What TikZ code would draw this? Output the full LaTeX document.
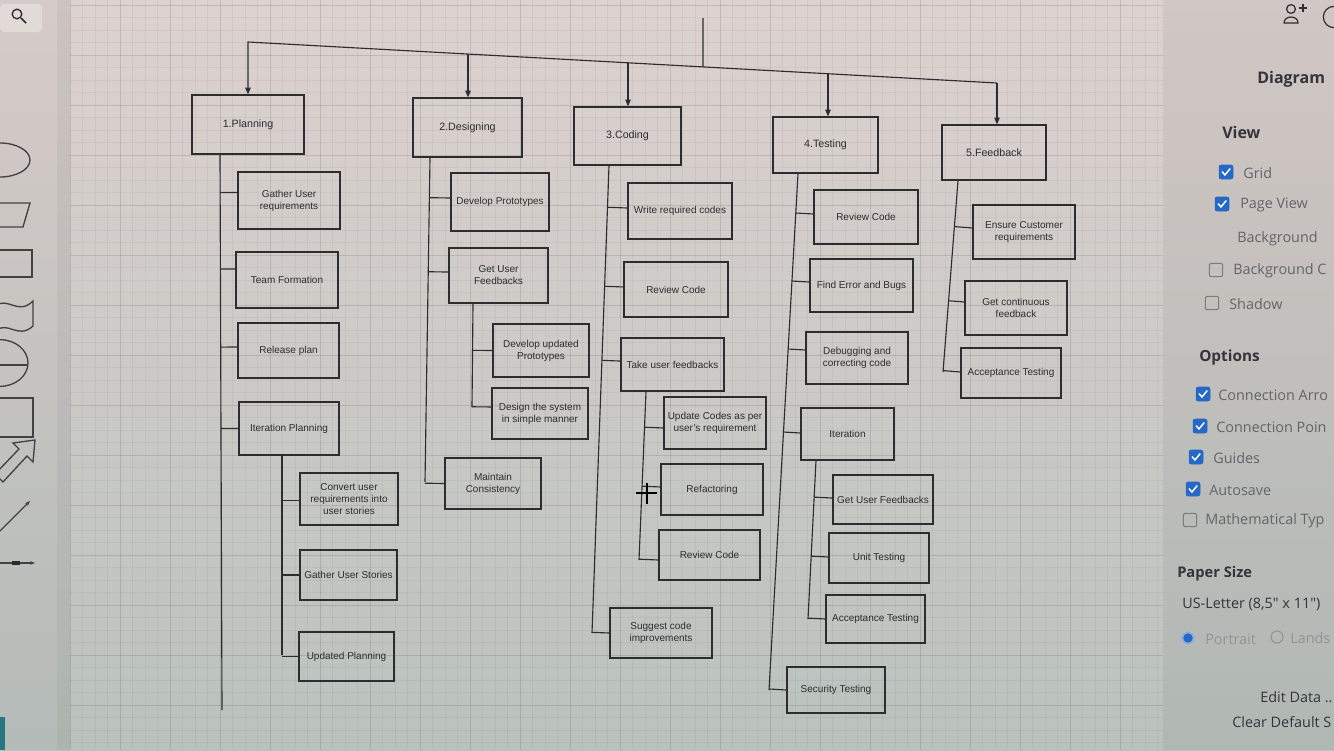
\documentclass[tikz,border=0pt]{standalone}
\usepackage{fontspec}
\setmainfont{Liberation Sans}
\newfontfamily\uifont{Open Sans}
\usetikzlibrary{arrows.meta,calc}

\definecolor{bgtop}{RGB}{221,210,207}
\definecolor{bgbot}{RGB}{186,194,190}
\definecolor{ink}{RGB}{45,45,48}
\definecolor{uitext}{RGB}{100,100,106}
\definecolor{uihead}{RGB}{52,52,58}
\definecolor{tick}{RGB}{38,104,200}
\definecolor{teal}{RGB}{40,118,130}

% horizontal stub from a (slanted) trunk #1--#2 to child #3, #4 = vertical offset
\newcommand\tstub[4]{%
  \coordinate (stubend) at ([yshift=#4]#3.west);
  \draw[conn] ($(#1)!(stubend)!(#2)$) -- (stubend);}

\begin{document}
\begin{tikzpicture}[x=0.75pt,y=-0.75pt,
  box/.style={draw=ink, line width=0.9pt, text=ink, align=center,
    font=\fontsize{7.5}{9}\selectfont, inner sep=1pt},
  phase/.style={box, font=\fontsize{8}{9.5}\selectfont},
  sz/.style 2 args={minimum width=#1*0.75pt, minimum height=#2*0.75pt},
  conn/.style={draw=ink, line width=0.85pt},
  arr/.style={conn, -{Triangle[length=5pt,width=4pt]}},
  gridminor/.style={draw=black, opacity=0.04, line width=0.4pt},
  gridmajor/.style={draw=black, opacity=0.075, line width=0.5pt},
  uilbl/.style={anchor=west, text=uitext, font=\uifont\fontsize{10.8}{13}\selectfont, inner sep=0pt},
  uihd/.style={anchor=west, text=uihead, font=\uifont\bfseries\fontsize{11.5}{13}\selectfont, inner sep=0pt},
  cbonst/.style={draw=tick, fill=tick, rounded corners=1.5pt, minimum size=10.5pt, inner sep=0pt},
  cboffst/.style={draw=uitext!85, line width=0.8pt, rounded corners=1.5pt, minimum size=10pt, inner sep=0pt},
  palette/.style={draw=ink!90, line width=1pt}]

\useasboundingbox (0,0) rectangle (1334,750);
\clip (0,0) rectangle (1334,750);

% ---------- background, canvas grid, side strips ----------
\shade[top color=bgtop, bottom color=bgbot] (0,0) rectangle (1334,750);
\begin{scope}
  \clip (70,0) rectangle (1163,750);
  \foreach \gx in {70,82.5,...,1163} \draw[gridminor] (\gx,0) -- (\gx,750);
  \foreach \gy in {5,17.5,...,750} \draw[gridminor] (70,\gy) -- (1163,\gy);
  \foreach \gx in {70,120,...,1163} \draw[gridmajor] (\gx,0) -- (\gx,750);
  \foreach \gy in {5,55,...,750} \draw[gridmajor] (70,\gy) -- (1163,\gy);
\end{scope}
\fill[black, opacity=0.03] (0,0) rectangle (57,750);
\fill[black, opacity=0.07] (57,0) rectangle (70,750);
\fill[black, opacity=0.05] (1163,0) rectangle (1334,750);
\fill[teal] (0,717) rectangle (5,750);

% ---------- phases ----------
\node[phase, sz={112}{59}] (pl) at (248,124.5) {1.Planning};
\node[phase, sz={109}{59}] (de) at (467.5,127.5) {2.Designing};
\node[phase, sz={107}{58}] (co) at (627.5,136) {3.Coding};
\node[phase, sz={105}{56}] (te) at (825.5,145) {4.Testing};
\node[phase, sz={104}{55}] (fb) at (994,152.5) {5.Feedback};

% ---------- planning ----------
\node[box, sz={102}{57}] (p1) at (289,200.5) {Gather User\\requirements};
\node[box, sz={102}{56}] (p2) at (287,280) {Team Formation};
\node[box, sz={101}{55}] (p3) at (288.5,350.5) {Release plan};
\node[box, sz={100}{53}] (p4) at (289,428.5) {Iteration Planning};
\node[box, sz={98}{52}] (p41) at (349,499) {Convert user\\requirements into\\user stories};
\node[box, sz={97}{50}] (p42) at (348.5,575) {Gather User Stories};
\node[box, sz={95}{49}] (p43) at (346.5,656.5) {Updated Planning};

% ---------- designing ----------
\node[box, sz={98}{58}] (d1) at (500,202) {Develop Prototypes};
\node[box, sz={99}{55}] (d2) at (498.5,275.5) {Get User\\Feedbacks};
\node[box, sz={96}{53}] (d21) at (541,350.5) {Develop updated\\Prototypes};
\node[box, sz={96}{51}] (d22) at (540,413.5) {Design the system\\in simple manner};
\node[box, sz={96}{51}] (d3) at (493,483.5) {Maintain\\Consistency};

% ---------- coding ----------
\node[box, sz={104}{56}] (c1) at (680,211) {Write required codes};
\node[box, sz={104}{55}] (c2) at (676,289.5) {Review Code};
\node[box, sz={103}{53}] (c3) at (672.5,364.5) {Take user feedbacks};
\node[box, sz={102}{52}] (c31) at (715,423) {Update Codes as per\\user's requirement};
\node[box, sz={102}{51}] (c32) at (712,489.5) {Refactoring};
\node[box, sz={101}{50}] (c33) at (709.5,555) {Review Code};
\node[box, sz={102}{50}] (c4) at (661,633) {Suggest code\\improvements};

% ---------- testing ----------
\node[box, sz={104}{54}] (t1) at (866,217) {Review Code};
\node[box, sz={103}{53}] (t2) at (861.5,285.5) {Find Error and Bugs};
\node[box, sz={102}{52}] (t3) at (857,358) {Debugging and\\correcting code};
\node[box, sz={93}{52}] (t4) at (847.5,434) {Iteration};
\node[box, sz={100}{49}] (t41) at (883,499.5) {Get User Feedbacks};
\node[box, sz={100}{50}] (t42) at (879,558) {Unit Testing};
\node[box, sz={99}{48}] (t43) at (875.5,619) {Acceptance Testing};
\node[box, sz={98}{46}] (t5) at (836,690) {Security Testing};

% ---------- feedback ----------
\node[box, sz={102}{54}] (f1) at (1024,232) {Ensure Customer\\requirements};
\node[box, sz={102}{54}] (f2) at (1016,308) {Get continuous\\feedback};
\node[box, sz={100}{50}] (f3) at (1011,373) {Acceptance Testing};

% ---------- top bus and arrows ----------
\coordinate (root) at (703,18);
\coordinate (j1) at (248,42);
\coordinate (j5) at (997,83);
\coordinate (hub) at ($(j1)!{455/749}!(j5)$);
\coordinate (j2) at ($(j1)!{220/749}!(j5)$);
\coordinate (j3) at ($(j1)!{380/749}!(j5)$);
\coordinate (j4) at ($(j1)!{580/749}!(j5)$);
\draw[conn] (root) -- (hub);
\draw[arr] (j5) -- (j1) -- (j1 |- pl.north);
\draw[arr] (j2) -- (j2 |- de.north);
\draw[arr] (j3) -- (j3 |- co.north);
\draw[arr] (j4) -- (j4 |- te.north);
\draw[arr] (j5) -- (j5 |- fb.north);

% ---------- trunks and stubs ----------
\coordinate (plT) at (220,0 |- pl.south);
\coordinate (plB) at (222,710);
\draw[conn] (plT) -- (plB);
\tstub{plT}{plB}{p1}{6pt}
\tstub{plT}{plB}{p2}{8.25pt}
\tstub{plT}{plB}{p3}{2.6pt}
\tstub{plT}{plB}{p4}{0pt}

\coordinate (p4T) at (282,0 |- p4.south);
\coordinate (p4B) at (282,655);
\draw[conn] (p4T) -- (p4B);
\tstub{p4T}{p4B}{p41}{-1pt}
\tstub{p4T}{p4B}{p42}{0pt}
\tstub{p4T}{p4B}{p43}{0pt}

\coordinate (deT) at (430,0 |- de.south);
\coordinate (deB) at (425,482);
\draw[conn] (deT) -- (deB);
\tstub{deT}{deB}{d1}{3pt}
\tstub{deT}{deB}{d2}{2.6pt}
\tstub{deT}{deB}{d3}{0pt}

\coordinate (d2T) at (473,0 |- d2.south);
\coordinate (d2B) at (472,407);
\draw[conn] (d2T) -- (d2B);
\tstub{d2T}{d2B}{d21}{0pt}
\tstub{d2T}{d2B}{d22}{4.9pt}

\coordinate (coT) at (609,0 |- co.south);
\coordinate (coB) at (592,633);
\draw[conn] (coT) -- (coB);
\tstub{coT}{coB}{c1}{2.25pt}
\tstub{coT}{coB}{c2}{1.9pt}
\tstub{coT}{coB}{c3}{2.6pt}
\tstub{coT}{coB}{c4}{0pt}

\coordinate (c3T) at (646,0 |- c3.south);
\coordinate (c3B) at (639,560);
\draw[conn] (c3T) -- (c3B);
\tstub{c3T}{c3B}{c31}{-3.75pt}
\tstub{c3T}{c3B}{c32}{1.9pt}
\tstub{c3T}{c3B}{c33}{-3.75pt}

\coordinate (teT) at (798,0 |- te.south);
\coordinate (teB) at (769,690);
\draw[conn] (teT) -- (teB);
\tstub{teT}{teB}{t1}{2.25pt}
\tstub{teT}{teB}{t2}{2.6pt}
\tstub{teT}{teB}{t3}{6pt}
\tstub{teT}{teB}{t4}{0.75pt}
\tstub{teT}{teB}{t5}{0pt}

\coordinate (t4T) at (816,0 |- t4.south);
\coordinate (t4B) at (808,619);
\draw[conn] (t4T) -- (t4B);
\tstub{t4T}{t4B}{t41}{1.1pt}
\tstub{t4T}{t4B}{t42}{0.75pt}
\tstub{t4T}{t4B}{t43}{0pt}

\coordinate (fbT) at (958,0 |- fb.south);
\coordinate (fbB) at (943,372);
\draw[conn] (fbT) -- (fbB);
\tstub{fbT}{fbB}{f1}{3pt}
\tstub{fbT}{fbB}{f2}{4.5pt}
\tstub{fbT}{fbB}{f3}{0.75pt}

% mouse cursor (crosshair)
\draw[black, line width=1.6pt] (636,493) -- (657,493) (647,483) -- (647,504);

% ---------- shape palette on the left ----------
\begin{scope}[palette]
  \draw (0,160) ellipse [x radius=22.5pt, y radius=12.75pt];
  \draw (-10,203) -- (30,203) -- (23,227) -- (-17,227);
  \draw (-5,250) -- (32,250) -- (32,277) -- (-5,277);
  \draw (-5,306) .. controls (8,296) and (18,316) .. (33,301) -- (33,326)
        .. controls (18,340) and (8,320) .. (-5,331);
  \draw (0,363) ellipse [x radius=21pt, y radius=17.5pt];
  \draw (0,365) -- (27,365);
  \draw (-5,398) -- (33,398) -- (33,437) -- (-5,437);
  \draw (35,440) -- (33,462) -- (27,456) -- (3,482) -- (-5,474) -- (19,449) -- (13,443) -- cycle;
  \draw[-{Stealth[length=4pt]}] (0,531) -- (30,501);
  \draw[-{Stealth[length=3.5pt]}] (0,563) -- (35,563);
  \fill[ink] (12,561) rectangle (20,565);
\end{scope}

% search field, top left
\fill[white, opacity=0.3, rounded corners=3pt] (0,4) rectangle (42,32);
\draw[ink, line width=1pt] (17,14) circle [radius=3.6pt];
\draw[ink, line width=1.1pt] (21,18) -- (26,23);

% ---------- format panel on the right ----------
\draw[ink, line width=0.9pt] (1291,9) circle [radius=3.3pt];
\draw[ink, line width=0.9pt] (1284,23) .. controls (1284,15) and (1298,15) .. (1298,23) -- cycle;
\draw[ink, line width=0.9pt] (1303,4) -- (1303,12) (1299,8) -- (1307,8);
\draw[ink, line width=0.9pt] (1334,17) circle [radius=8pt];

\node[uihd, font=\uifont\bfseries\fontsize{12}{14}\selectfont] (hDiagram) at (1257,79) {Diagram};
\node[uihd, font=\uifont\bfseries\fontsize{12}{14}\selectfont] (hView) at (1222,132) {View};

\node[cbonst] (cbGrid) at (1226,172) {};
\draw[white, line width=1.1pt] ([shift={(-3pt,0.3pt)}]cbGrid.center) -- ([shift={(-0.8pt,-2.2pt)}]cbGrid.center) -- ([shift={(3.2pt,2.6pt)}]cbGrid.center);
\node[uilbl] (lGrid) at (1243,173) {Grid};

\node[cbonst] (cbPage) at (1222,204) {};
\draw[white, line width=1.1pt] ([shift={(-3pt,0.3pt)}]cbPage.center) -- ([shift={(-0.8pt,-2.2pt)}]cbPage.center) -- ([shift={(3.2pt,2.6pt)}]cbPage.center);
\node[uilbl] (lPage) at (1240,205) {Page View};

\node[uilbl] (lBack) at (1237,239) {Background};

\node[cboffst] (cbBackC) at (1216,270) {};
\node[uilbl] (lBackC) at (1233,271) {Background C};

\node[cboffst] (cbShadow) at (1212,303) {};
\node[uilbl] (lShadow) at (1229,304) {Shadow};

\node[uihd] (hOptions) at (1199,358) {Options};

\node[cbonst] (cbArrows) at (1203,394) {};
\draw[white, line width=1.1pt] ([shift={(-3pt,0.3pt)}]cbArrows.center) -- ([shift={(-0.8pt,-2.2pt)}]cbArrows.center) -- ([shift={(3.2pt,2.6pt)}]cbArrows.center);
\node[uilbl] (lArrows) at (1218,395) {Connection Arro};

\node[cbonst] (cbPoints) at (1200,426) {};
\draw[white, line width=1.1pt] ([shift={(-3pt,0.3pt)}]cbPoints.center) -- ([shift={(-0.8pt,-2.2pt)}]cbPoints.center) -- ([shift={(3.2pt,2.6pt)}]cbPoints.center);
\node[uilbl] (lPoints) at (1216,427) {Connection Poin};

\node[cbonst] (cbGuides) at (1196,457) {};
\draw[white, line width=1.1pt] ([shift={(-3pt,0.3pt)}]cbGuides.center) -- ([shift={(-0.8pt,-2.2pt)}]cbGuides.center) -- ([shift={(3.2pt,2.6pt)}]cbGuides.center);
\node[uilbl] (lGuides) at (1213,458) {Guides};

\node[cbonst] (cbAuto) at (1193,489) {};
\draw[white, line width=1.1pt] ([shift={(-3pt,0.3pt)}]cbAuto.center) -- ([shift={(-0.8pt,-2.2pt)}]cbAuto.center) -- ([shift={(3.2pt,2.6pt)}]cbAuto.center);
\node[uilbl] (lAuto) at (1209,490) {Autosave};

\node[cboffst] (cbMath) at (1190,520) {};
\node[uilbl] (lMath) at (1205,521) {Mathematical Typ};

\node[uihd, font=\uifont\bfseries\fontsize{11}{13}\selectfont] (hPaper) at (1177,574) {Paper Size};
\node[uilbl, text=uihead] (lLetter) at (1182,604) {US-Letter (8,5" x 11")};

\node[circle, draw=tick!55, fill=tick, line width=1.2pt, minimum size=8.5pt, inner sep=0pt] (rbPort) at (1188,638) {};
\node[uilbl, text=uitext!70] (lPort) at (1205,639) {Portrait};
\node[circle, draw=uitext!70, line width=0.8pt, minimum size=9pt, inner sep=0pt] (rbLand) at (1277,637) {};
\node[uilbl, text=uitext!70] (lLand) at (1290,638) {Lands};

\node[uilbl, text=uihead] (lEdit) at (1260,697) {Edit Data ..};
\node[uilbl, text=uihead] (lClear) at (1232,722) {Clear Default S};

\end{tikzpicture}
\end{document}
